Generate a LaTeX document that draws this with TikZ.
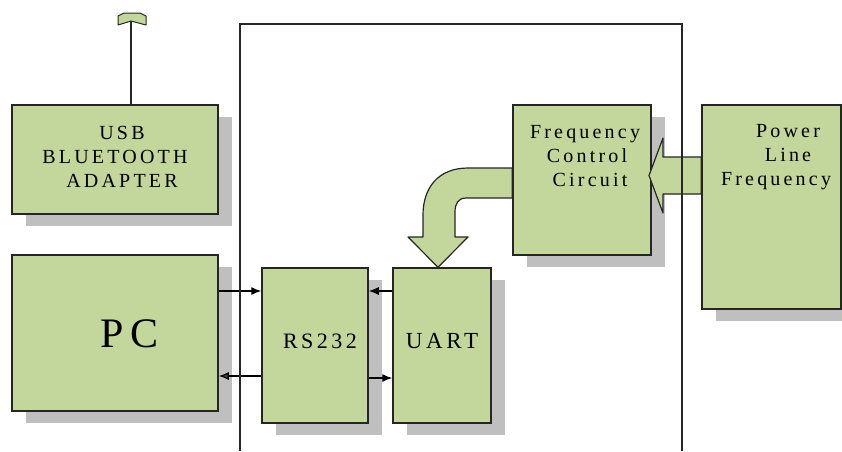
\documentclass[tikz,border=0pt]{standalone}
\usepackage{fontspec}
\setmainfont{Liberation Serif}[LetterSpace=16]
\usetikzlibrary{arrows.meta,shadows}
\definecolor{boxgreen}{HTML}{C3D69B}
\definecolor{shadowgray}{HTML}{BFBFBF}
\definecolor{edge}{HTML}{262626}
\tikzset{
 blk/.style={draw=edge, line width=1.5pt, fill=boxgreen, inner sep=0pt,
   drop shadow={shadow xshift=14pt, shadow yshift=-12pt, fill=shadowgray, opacity=1}},
 lbl/.style={align=center, inner sep=0pt, text=black, font=\fontsize{20}{24}\selectfont},
 sig/.style={line width=1.2pt, draw=black, -{Latex[length=10pt,width=8pt]}},
 fat/.style={draw=edge, line width=1.2pt, fill=boxgreen, line join=round},
}
\begin{document}
\begin{tikzpicture}[x=1pt,y=-1pt]
\useasboundingbox[fill=white] (0,0) rectangle (842,451);

% boxes
\node[blk, minimum width=206pt, minimum height=109pt] (usb) at (115,159.5) {};
\node[blk, minimum width=206pt, minimum height=156pt] (pc) at (115,333) {};
\node[blk, minimum width=106pt, minimum height=155pt] (rs) at (315,345.5) {};
\node[blk, minimum width=98pt, minimum height=155pt] (uart) at (442,345.5) {};
\node[blk, minimum width=138pt, minimum height=150pt] (fcc) at (582,180) {};
\node[blk, minimum width=139pt, minimum height=204pt] (plf) at (771.5,207) {};

% labels
\node[lbl] (usbt) at (115,157) {\hspace*{14pt}USB\\BLUETOOTH\\\hspace*{14pt}ADAPTER};
\node[lbl, font=\fontsize{42}{42}\selectfont] (pct) at (130,334) {PC};
\node[lbl, font=\fontsize{22}{24}\selectfont] (rst) at (320,341) {RS232};
\node[lbl, font=\fontsize{23}{24}\selectfont] (uartt) at (442,341) {UART};
\node[lbl] (fcct) at (585,156) {Frequency\\\hspace*{4pt}Control\\\hspace*{10pt}Circuit};
\node[lbl] (plft) at (776,157) {\hspace*{24pt}Power\\\hspace*{24pt}Line\\Frequency};

% antenna
\coordinate (ant) at (131,21);
\draw[draw=edge, line width=1.5pt] (ant) -- (ant |- usb.north);
\draw[fat, line width=1pt] (118,16) -- (124,13) -- (140,13) -- (146,16) -- (146,25) -- (131,21) -- (118,25) -- cycle;

% signal arrows
\draw[sig] (pc.east |- 0,291) -- (rs.west |- 0,291);
\draw[sig, {Latex[length=10pt,width=8pt,fill=darkgray]}-, draw=black] (pc.east |- 0,376) -- (rs.west |- 0,376);
\draw[sig] (uart.west |- 0,291) -- (rs.east |- 0,291);
\draw[sig] (rs.east |- 0,378) -- (uart.west |- 0,378);

% fat arrow power line -> frequency control
\draw[fat] (plf.west |- 0,157) -- (663,157) -- (663,138) -- (649,175.5) -- (663,213) -- (663,194) -- (plf.west |- 0,194) -- cycle;

% curved fat arrow frequency control -> UART
\draw[fat] (fcc.west |- 0,168) -- (468,168) .. controls (438,168) and (423,188) .. (423,215)
  -- (423,237) -- (408,237) -- (uart.north -| 438,0) -- (468,237) -- (455,237) -- (455,212)
  .. controls (455,204) and (458,198) .. (466,198) -- (fcc.west |- 0,198) -- cycle;

% enclosing frame (open at the bottom)
\draw[draw=edge, line width=1.5pt] (240,451) -- (240,24) -- (682,24) -- (682,451);
\end{tikzpicture}
\end{document}
